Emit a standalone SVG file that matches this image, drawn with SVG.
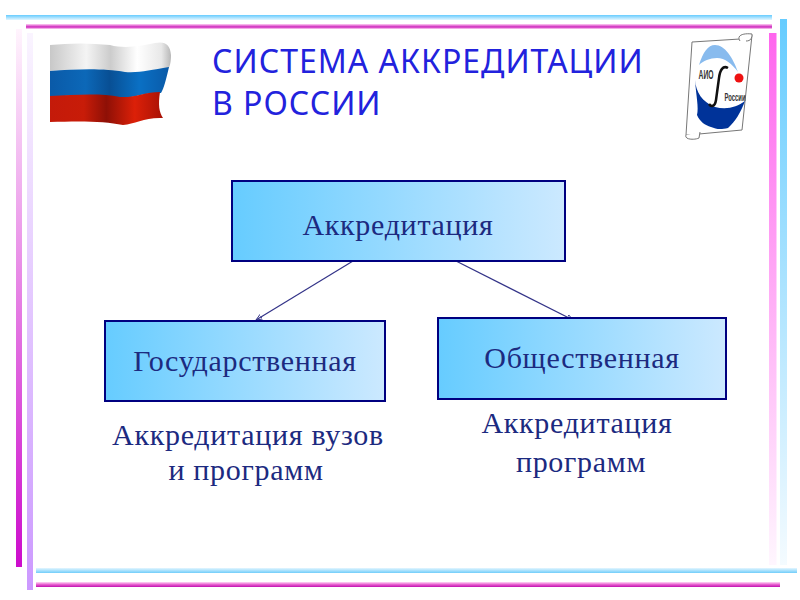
<svg xmlns="http://www.w3.org/2000/svg" width="800" height="600" viewBox="0 0 800 600">
<defs>
<linearGradient id="box" x1="0" y1="0" x2="1" y2="0"><stop offset="0" stop-color="#66ccff"/><stop offset="1" stop-color="#cce9ff"/></linearGradient>
<linearGradient id="hb" x1="0" y1="0" x2="0" y2="1"><stop offset="0" stop-color="#66ccff"/><stop offset="1" stop-color="#e4f6ff"/></linearGradient>
<linearGradient id="hb2" x1="0" y1="0" x2="0" y2="1"><stop offset="0" stop-color="#e4f6ff"/><stop offset="1" stop-color="#70cdfa"/></linearGradient>
<linearGradient id="hm" x1="0" y1="0" x2="0" y2="1"><stop offset="0" stop-color="#ffd0f4"/><stop offset="0.6" stop-color="#cc22bb"/><stop offset="1" stop-color="#ffd8f6"/></linearGradient>
<linearGradient id="hm2" x1="0" y1="0" x2="0" y2="1"><stop offset="0" stop-color="#ffd8f6"/><stop offset="0.5" stop-color="#e860d0"/><stop offset="1" stop-color="#c010b0"/></linearGradient>
<linearGradient id="v1" x1="0" y1="0" x2="0" y2="1"><stop offset="0" stop-color="#fff4fd"/><stop offset="1" stop-color="#cc0ccc"/></linearGradient>
<linearGradient id="v2" x1="0" y1="0" x2="0" y2="1"><stop offset="0" stop-color="#faf4ff"/><stop offset="1" stop-color="#cc99ff"/></linearGradient>
<linearGradient id="v3" x1="0" y1="0" x2="0" y2="1"><stop offset="0" stop-color="#ff66ee"/><stop offset="1" stop-color="#fff6fe"/></linearGradient>
<linearGradient id="v4" x1="0" y1="0" x2="0" y2="1"><stop offset="0" stop-color="#66ccff"/><stop offset="1" stop-color="#f4fbff"/></linearGradient>
<linearGradient id="fw" x1="0" y1="0" x2="1" y2="0"><stop offset="0" stop-color="#c8c8c8"/><stop offset="0.3" stop-color="#f4f4f4"/><stop offset="0.5" stop-color="#cccccc"/><stop offset="0.72" stop-color="#ffffff"/><stop offset="0.92" stop-color="#e8e8e8"/><stop offset="1" stop-color="#b8b8b8"/></linearGradient>
<linearGradient id="fb" x1="0" y1="0" x2="1" y2="0"><stop offset="0" stop-color="#0a5aa8"/><stop offset="0.3" stop-color="#0c68b8"/><stop offset="0.5" stop-color="#084f94"/><stop offset="0.75" stop-color="#0a70c4"/><stop offset="1" stop-color="#0a5aa8"/></linearGradient>
<linearGradient id="fr" x1="0" y1="0" x2="1" y2="0"><stop offset="0" stop-color="#c41a0a"/><stop offset="0.3" stop-color="#c81c08"/><stop offset="0.5" stop-color="#8e1006"/><stop offset="0.75" stop-color="#dc2008"/><stop offset="1" stop-color="#a81206"/></linearGradient>
<marker id="arr" viewBox="0 0 8 8" refX="7" refY="4" markerWidth="7" markerHeight="7" orient="auto" markerUnits="userSpaceOnUse"><path d="M0 1L7 4L0 7Z" fill="none" stroke="#333388" stroke-width="1"/></marker>
</defs>
<style>
.node{stroke:#000080;stroke-width:2;fill:url(#box)}
.lbl{font-family:"Liberation Serif","DejaVu Serif",serif;font-size:30px;fill:#1c2a80;text-anchor:middle;letter-spacing:.7px}
.title{font-family:"Noto Sans","Liberation Sans",sans-serif;font-size:32px;fill:#2222dd;letter-spacing:1px}
.conn{stroke:#333388;stroke-width:1.2;fill:none}
.scroll{fill:#ffffff;stroke:#777777;stroke-width:1}
.logotxt{font-family:"Liberation Sans","DejaVu Sans",sans-serif;font-weight:bold;fill:#333333;text-anchor:middle}
</style>
<rect width="800" height="600" fill="#ffffff"/>
<g id="frame">
<rect x="16" y="29" width="6" height="538" fill="url(#v1)"/>
<rect x="27" y="33" width="6" height="557" fill="url(#v2)"/>
<rect x="769" y="33" width="7.500" height="532" fill="url(#v3)"/>
<rect x="780" y="19" width="7" height="546" fill="url(#v4)"/>
<rect x="6" y="15" width="766" height="5" fill="url(#hb)"/>
<rect x="26" y="24" width="746" height="5" fill="url(#hm)"/>
<rect x="36" y="568" width="761" height="5" fill="url(#hb2)"/>
<rect x="36" y="582" width="744" height="5" fill="url(#hm2)"/>
</g>
<g id="flag">
<path d="M50 45C70 43 90 43 110 45C125 49 140 46 155 43C165 41 170 44 171 55C171 62 170 65 169 68C150 70 140 73 125 72C105 68 75 69 50 71Z" fill="url(#fw)"/>
<path d="M50 71C75 69 105 68 125 72C140 73 150 70 169 67C166 80 164 88 161 93C145 92 135 98 120 98C100 94 75 95 50 97Z" fill="url(#fb)"/>
<path d="M50 96C75 95 100 93 120 97C135 98 145 92 160 92C158 105 159 112 163 118C145 117 135 124 123 125C105 121 80 121 50 122Z" fill="url(#fr)"/>
</g>
<g id="title">
<text class="title" x="212" y="73">СИСТЕМА АККРЕДИТАЦИИ</text>
<text class="title" x="212" y="115">В РОССИИ</text>
</g>
<g id="logo">
<path class="scroll" d="M692 42L740 39L752 35L742 130L699 134L686 135Z"/>
<path class="scroll" d="M740 41C736 35 744 33 752 34C752 38 751 41 746 41"/>
<path class="scroll" d="M686 135C684 140 695 140 699 138L700 132"/>
<path d="M699 65C703 52 708 45 715 45C725 45 733 58 738 72C732 64 725 58 717 58C710 58 703 61 699 65Z" fill="#88bbee"/>
<path d="M695 80C696 92 702 102 715 107C727 110 737 107 745 101C741 112 735 122 728 128C720 130 716 129 711 127C705 125 700 122 697 115C699 108 696 95 695 80Z" fill="#003399"/>
<circle cx="739" cy="78" r="4.500" fill="#ee1111"/>
<path d="M728 68C723 65 720 70 719 78L716 100C715 107 711 107 709 104" fill="none" stroke="#111111" stroke-width="2.500"/>
<text class="logotxt" x="706" y="79" font-size="12" textLength="15" lengthAdjust="spacingAndGlyphs">АИО</text>
<text class="logotxt" x="735" y="101" font-size="10" textLength="21" lengthAdjust="spacingAndGlyphs">России</text>
</g>
<g id="connectors">
<line class="conn" x1="353" y1="261" x2="256" y2="320" marker-end="url(#arr)"/>
<line class="conn" x1="456" y1="261" x2="573" y2="320" marker-end="url(#arr)"/>
</g>
<g id="n-accreditation"><rect class="node" x="232" y="181" width="333" height="80"/><text class="lbl" x="398" y="235">Аккредитация</text></g>
<g id="n-state"><rect class="node" x="105" y="321" width="280" height="80"/><text class="lbl" x="245" y="371">Государственная</text></g>
<g id="n-public"><rect class="node" x="438" y="318" width="288" height="81"/><text class="lbl" x="582" y="368">Общественная</text></g>
<g id="captions">
<text class="lbl" x="248" y="445">Аккредитация вузов</text>
<text class="lbl" x="246" y="480">и программ</text>
<text class="lbl" x="577" y="433">Аккредитация</text>
<text class="lbl" x="581" y="472">программ</text>
</g>
</svg>
